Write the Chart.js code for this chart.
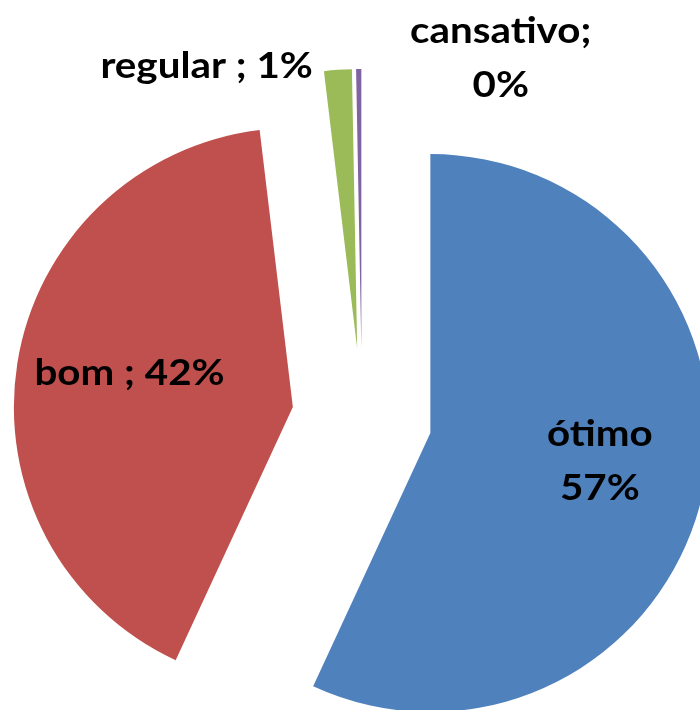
<!DOCTYPE html>
<html>
<head>
<meta charset="utf-8">
<script src="https://cdn.jsdelivr.net/npm/chart.js@4"></script>
<style>
  html, body { margin: 0; padding: 0; background: #ffffff; }
  #wrap { width: 700px; height: 710px; }
</style>
</head>
<body>
<div id="wrap"><canvas id="c" width="700" height="710"></canvas></div>
<script>
// ---- data ----
const categories = ['ótimo', 'bom', 'regular', 'cansativo'];
const values = [56.9, 41.2, 1.6, 0.3];
const percentLabels = ['57%', '42%', '1%', '0%'];

// label text (Excel style data labels: category ; percentage)
const labelLines = [
  [categories[0], percentLabels[0]],
  [categories[1] + ' ; ' + percentLabels[1]],
  [categories[2] + ' ; ' + percentLabels[2]],
  [categories[3] + ';', percentLabels[3]]
];

// ---- styles ----
const sliceColors = ['#4F81BD', '#C0504D', '#9BBB59', '#8064A2'];
const pieRadius = 279;
const explodePx = 70;
const fontPx = 37;
const textScaleX = 1.09;
const lineH = 54;
const capHalf = 13;
// label anchors: fraction of radius along slice mid-angle, plus nudge
const labelPlacement = [
  { r: 0.6, dx: 6, dy: -8.6, align: 'center' },
  { r: 0.6, dx: 2, dy: -9, align: 'center' },
  { r: 1.0, dx: -25, dy: -4.8, align: 'right' },
  { r: 1.0, dx: 142, dy: -12.5, align: 'center' }
];

const explodePlugin = {
  id: 'explodeSlices',
  afterDatasetsUpdate(chart) {
    const meta = chart.getDatasetMeta(0);
    meta.data.forEach(arc => {
      const mid = (arc.startAngle + arc.endAngle) / 2;
      arc.x += Math.cos(mid) * explodePx;
      arc.y += Math.sin(mid) * explodePx;
    });
  }
};

const labelPlugin = {
  id: 'sliceLabels',
  afterDatasetsDraw(chart) {
    const ctx = chart.ctx;
    const meta = chart.getDatasetMeta(0);
    ctx.save();
    ctx.font = 'bold ' + fontPx + 'px Lato';
    ctx.fillStyle = '#000000';
    ctx.textBaseline = 'alphabetic';
    meta.data.forEach((arc, i) => {
      const p = labelPlacement[i];
      const mid = (arc.startAngle + arc.endAngle) / 2;
      const rr = arc.outerRadius * p.r;
      const ax = arc.x + Math.cos(mid) * rr + p.dx;
      const ay = arc.y + Math.sin(mid) * rr + p.dy;
      const lines = labelLines[i];
      lines.forEach((ln, k) => {
        const by = ay + (k - (lines.length - 1) / 2) * lineH + capHalf;
        ctx.save();
        ctx.translate(ax, by);
        ctx.scale(textScaleX, 1);
        ctx.textAlign = p.align;
        ctx.fillText(ln, 0, 0);
        ctx.restore();
      });
    });
    ctx.restore();
  }
};

new Chart(document.getElementById('c'), {
  type: 'pie',
  data: {
    labels: categories,
    datasets: [{
      data: values,
      backgroundColor: sliceColors,
      borderWidth: 0,
      hoverOffset: 0,
      radius: pieRadius,
      clip: false
    }]
  },
  options: {
    responsive: false,
    animation: false,
    events: [],
    rotation: 0,
    layout: { padding: { left: 24, right: 0, top: 126, bottom: 0 } },
    plugins: {
      legend: { display: false },
      tooltip: { enabled: false },
      title: { display: false }
    }
  },
  plugins: [explodePlugin, labelPlugin]
});
</script>
</body>
</html>
